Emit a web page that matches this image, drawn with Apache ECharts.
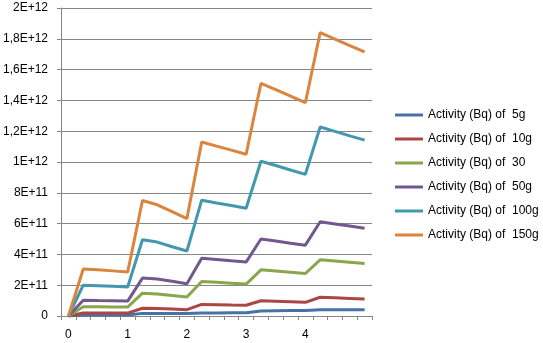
<!DOCTYPE html>
<html>
<head>
<meta charset="utf-8">
<script src="https://cdn.jsdelivr.net/npm/echarts@6/dist/echarts.min.js"></script>
<style>
html,body{margin:0;padding:0;background:#fff;}
#chart{width:543px;height:343px;}
</style>
</head>
<body>
<div id="chart"></div>
<script>
var categories = ['0','','','','1','','','','2','','','','3','','','','4','','','',''];
var yTickLabels = ['0','2E+11','4E+11','6E+11','8E+11','1E+12','1,2E+12','1,4E+12','1,6E+12','1,8E+12','2E+12'];
var seriesNames = ['Activity (Bq) of  5g','Activity (Bq) of  10g','Activity (Bq) of  30','Activity (Bq) of  50g','Activity (Bq) of  100g','Activity (Bq) of  150g'];
var s5g   = [0, 0.07e11, 0.07e11, 0.07e11, 0.07e11, 0.17e11, 0.17e11, 0.17e11, 0.16e11, 0.2e11, 0.2e11, 0.21e11, 0.21e11, 0.33e11, 0.34e11, 0.35e11, 0.36e11, 0.41e11, 0.41e11, 0.4e11, 0.4e11];
var s10g  = [0, 0.2e11, 0.2e11, 0.19e11, 0.19e11, 0.5e11, 0.48e11, 0.45e11, 0.41e11, 0.75e11, 0.73e11, 0.71e11, 0.7e11, 0.99e11, 0.96e11, 0.93e11, 0.89e11, 1.22e11, 1.18e11, 1.14e11, 1.1e11];
var s30   = [0, 0.6e11, 0.6e11, 0.59e11, 0.58e11, 1.48e11, 1.43e11, 1.33e11, 1.23e11, 2.24e11, 2.19e11, 2.13e11, 2.07e11, 3.0e11, 2.92e11, 2.84e11, 2.76e11, 3.65e11, 3.57e11, 3.49e11, 3.41e11];
var s50g  = [0, 1.02e11, 1.0e11, 0.99e11, 0.97e11, 2.46e11, 2.4e11, 2.25e11, 2.1e11, 3.75e11, 3.67e11, 3.58e11, 3.5e11, 5.0e11, 4.87e11, 4.73e11, 4.6e11, 6.12e11, 5.98e11, 5.84e11, 5.7e11];
var s100g = [0, 2.0e11, 1.97e11, 1.93e11, 1.88e11, 4.95e11, 4.8e11, 4.5e11, 4.22e11, 7.52e11, 7.34e11, 7.17e11, 7.0e11, 10.05e11, 9.77e11, 9.48e11, 9.2e11, 12.27e11, 11.99e11, 11.7e11, 11.42e11];
var s150g = [0, 3.05e11, 3.0e11, 2.93e11, 2.85e11, 7.5e11, 7.22e11, 6.78e11, 6.33e11, 11.3e11, 11.03e11, 10.77e11, 10.5e11, 15.1e11, 14.7e11, 14.28e11, 13.85e11, 18.4e11, 17.98e11, 17.56e11, 17.15e11];
var colors = ['#4572A7','#AA4643','#89A54E','#71588F','#4198AF','#DB843D'];

var allData = [s5g, s10g, s30, s50g, s100g, s150g];
var FONT = 'Liberation Sans';
var chart = echarts.init(document.getElementById('chart'), null, {renderer:'canvas'});
chart.setOption({
  animation: false,
  color: colors,
  grid: {left: 61, right: 171, top: 8, bottom: 27, containLabel: false},
  legend: {
    orient: 'vertical', left: 390, top: 104,
    itemWidth: 28, itemHeight: 3, itemGap: 12, icon: 'rect',
    textStyle: {fontFamily: FONT, fontSize: 12, color: '#000'},
    data: seriesNames
  },
  xAxis: {
    type: 'category', data: categories, boundaryGap: true,
    axisLine: {lineStyle: {color: '#868686', width: 1}},
    axisTick: {show: true, interval: 0, length: 4, lineStyle: {color: '#868686'}},
    axisLabel: {interval: 0, margin: 13, fontFamily: FONT, fontSize: 12, color: '#000'},
    splitLine: {show: false}
  },
  yAxis: {
    type: 'value', min: 0, max: 2e12, interval: 2e11,
    axisLine: {show: true, lineStyle: {color: '#868686', width: 1}},
    axisTick: {show: true, length: 4, lineStyle: {color: '#868686'}},
    axisLabel: {margin: 13, fontFamily: FONT, fontSize: 12, color: '#000',
      formatter: function (v) { return yTickLabels[Math.round(v / 2e11)]; }},
    splitLine: {show: true, lineStyle: {color: '#868686', width: 1}}
  },
  series: allData.map(function (d, i) {
    return {
      name: seriesNames[i], type: 'line', data: d,
      symbol: 'none', smooth: false,
      lineStyle: {width: 3, color: colors[i]},
      itemStyle: {color: colors[i]}
    };
  })
});
</script>
</body>
</html>
